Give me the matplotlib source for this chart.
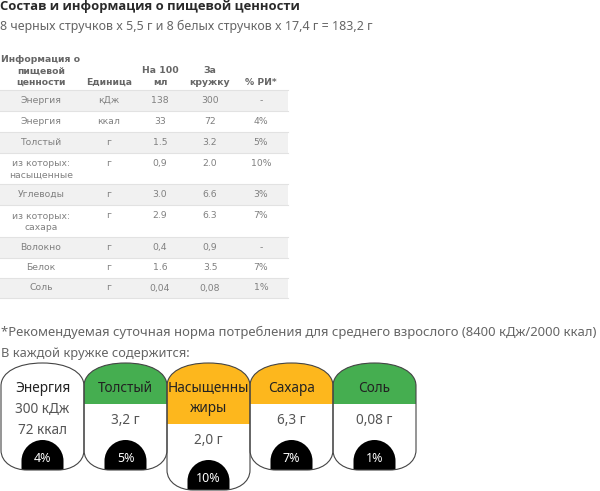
import matplotlib
matplotlib.use('Agg')
import matplotlib.pyplot as plt
from matplotlib.patches import PathPatch, Rectangle
from matplotlib.path import Path

title = 'Состав и информация о пищевой ценности'
subtitle = '8 черных стручков x 5,5 г и 8 белых стручков x 17,4 г = 183,2 г'
footnote = '*Рекомендуемая суточная норма потребления для среднего взрослого (8400 кДж/2000 ккал)'
per_cup = 'В каждой кружке содержится:'

headers = ['Информация о\nпищевой\nценности', 'Единица', 'На 100\nмл', 'За\nкружку', '% РИ*']
nutrients = ['Энергия', 'Энергия', 'Толстый', 'из которых:\nнасыщенные', 'Углеводы',
             'из которых:\nсахара', 'Волокно', 'Белок', 'Соль']
units = ['кДж', 'ккал', 'г', 'г', 'г', 'г', 'г', 'г', 'г']
per_100 = ['138', '33', '1.5', '0,9', '3.0', '2.9', '0,4', '1.6', '0,04']
per_mug = ['300', '72', '3.2', '2.0', '6.6', '6.3', '0,9', '3.5', '0,08']
ri = ['-', '4%', '5%', '10%', '3%', '7%', '-', '7%', '1%']

card_names = ['Энергия', 'Толстый', 'Насыщенны\nжиры', 'Сахара', 'Соль']
card_values = ['300 кДж\n72 ккал', '3,2 г', '2,0 г', '6,3 г', '0,08 г']
card_pct = ['4%', '5%', '10%', '7%', '1%']
card_colors = ['#ffffff', '#45ae50', '#fdb71d', '#fdb71d', '#45ae50']

# layout, all in pixels of the picture
col_x = [41, 109, 160, 210, 261]
row_edges = [90, 111, 132, 153, 184, 205, 237, 258, 278, 298]
card_edges = [1, 84, 167, 250, 333, 416]
card_bottom = [470, 470, 490, 470, 470]
band_bottom = [404, 404, 424, 404, 404]

body_font = ['Noto Sans', 'DejaVu Sans']
table_font = ['DejaVu Sans']

fig = plt.figure(figsize=(6, 4.91), dpi=100)
ax = fig.add_axes([0, 0, 1, 1])
ax.set_xlim(0, 600)
ax.set_ylim(491, 0)
ax.axis('off')


def card_path(x0, x1, top, bottom):
    # arched top, rounded bottom
    return Path([(x0, 386), (x0, 372), (x0 + 17, top), ((x0 + x1) / 2, top),
                 (x1 - 17, top), (x1, 372), (x1, 386),
                 (x1, bottom - 20),
                 (x1, bottom - 7), (x1 - 13, bottom), (x1 - 26, bottom),
                 (x0 + 26, bottom),
                 (x0 + 13, bottom), (x0, bottom - 7), (x0, bottom - 20),
                 (x0, 386)],
                [Path.MOVETO, Path.CURVE4, Path.CURVE4, Path.CURVE4,
                 Path.CURVE4, Path.CURVE4, Path.CURVE4,
                 Path.LINETO,
                 Path.CURVE4, Path.CURVE4, Path.CURVE4,
                 Path.LINETO,
                 Path.CURVE4, Path.CURVE4, Path.CURVE4,
                 Path.CLOSEPOLY])


def dome_path(cx, top, bottom):
    r = 21
    k = 0.55 * r
    return Path([(cx - r, bottom), (cx - r, top + r),
                 (cx - r, top + r - k), (cx - k, top), (cx, top),
                 (cx + k, top), (cx + r, top + r - k), (cx + r, top + r),
                 (cx + r, bottom), (cx - r, bottom)],
                [Path.MOVETO, Path.LINETO,
                 Path.CURVE4, Path.CURVE4, Path.CURVE4,
                 Path.CURVE4, Path.CURVE4, Path.CURVE4,
                 Path.LINETO, Path.CLOSEPOLY])


ax.text(0, 6, title, fontsize=9.4, fontweight='bold', color='#2a2a2a', family=['Open Sans', 'DejaVu Sans'], va='center')
ax.text(0, 26, subtitle, fontsize=8.95, color='#666666', family=body_font, va='center')
ax.text(1, 332, footnote, fontsize=9.4, color='#666666', family=body_font, va='center')
ax.text(1, 354, per_cup, fontsize=9.25, color='#666666', family=body_font, va='center')

# table
for x, h in zip(col_x, headers):
    ax.text(x, 86.5, h, fontsize=6.7, fontweight='bold', color='#666666', family=table_font,
            ha='center', va='bottom', linespacing=1.3)
for i in range(len(nutrients)):
    y0, y1 = row_edges[i], row_edges[i + 1]
    if i % 2 == 0:
        ax.add_patch(Rectangle((0, y0), 288, y1 - y0, fc='#f1f1f1', ec='none'))
    ax.plot([0, 288], [y1, y1], color='#e2e2e2', lw=0.8)
    row = [nutrients[i], units[i], per_100[i], per_mug[i], ri[i]]
    for j, (x, t) in enumerate(zip(col_x, row)):
        if '\n' in t:
            yc = (y0 + y1) / 2 + 1
        elif y1 - y0 < 25:
            yc = (y0 + y1) / 2
        else:
            yc = y0 + 10.5
        ax.text(x, yc, t, fontsize=6.7, color='#808080', family=table_font,
                ha='center', va='center', linespacing=1.3)
ax.plot([0, 288], [90, 90], color='#e2e2e2', lw=0.8)

# cards
for i, name in enumerate(card_names):
    x0, x1 = card_edges[i], card_edges[i + 1]
    cx = (x0 + x1) / 2
    bottom = card_bottom[i]
    outline = card_path(x0, x1, 363, bottom)
    body = PathPatch(outline, fc='white', ec='none', zorder=2)
    ax.add_patch(body)
    band = Rectangle((x0, 360), x1 - x0, band_bottom[i] - 360, fc=card_colors[i], ec='none', zorder=3)
    ax.add_patch(band)
    band.set_clip_path(body)
    dome = PathPatch(dome_path(cx, bottom - 30, bottom), fc='black', ec='none', zorder=4)
    ax.add_patch(dome)
    ax.add_patch(PathPatch(outline, fc='none', ec='#444444', lw=0.8, zorder=5))

    name_lines = name.split('\n')
    for k, line in enumerate(name_lines):
        ax.text(cx, 388 + 21 * k, line, fontsize=9.8, color='#222222', family=body_font,
                ha='center', va='center', zorder=6)
    val_lines = card_values[i].split('\n')
    if i == 0:
        val_y = [409, 430]
    else:
        val_y = [band_bottom[i] + 16]
    for line, y in zip(val_lines, val_y):
        ax.text(cx, y, line, fontsize=9.8, color='#555555', family=body_font,
                ha='center', va='center', zorder=6)
    ax.text(cx, bottom - 11, card_pct[i], fontsize=9, color='white', family=body_font,
            ha='center', va='center', zorder=6)

fig.savefig('out.png', dpi=100)
